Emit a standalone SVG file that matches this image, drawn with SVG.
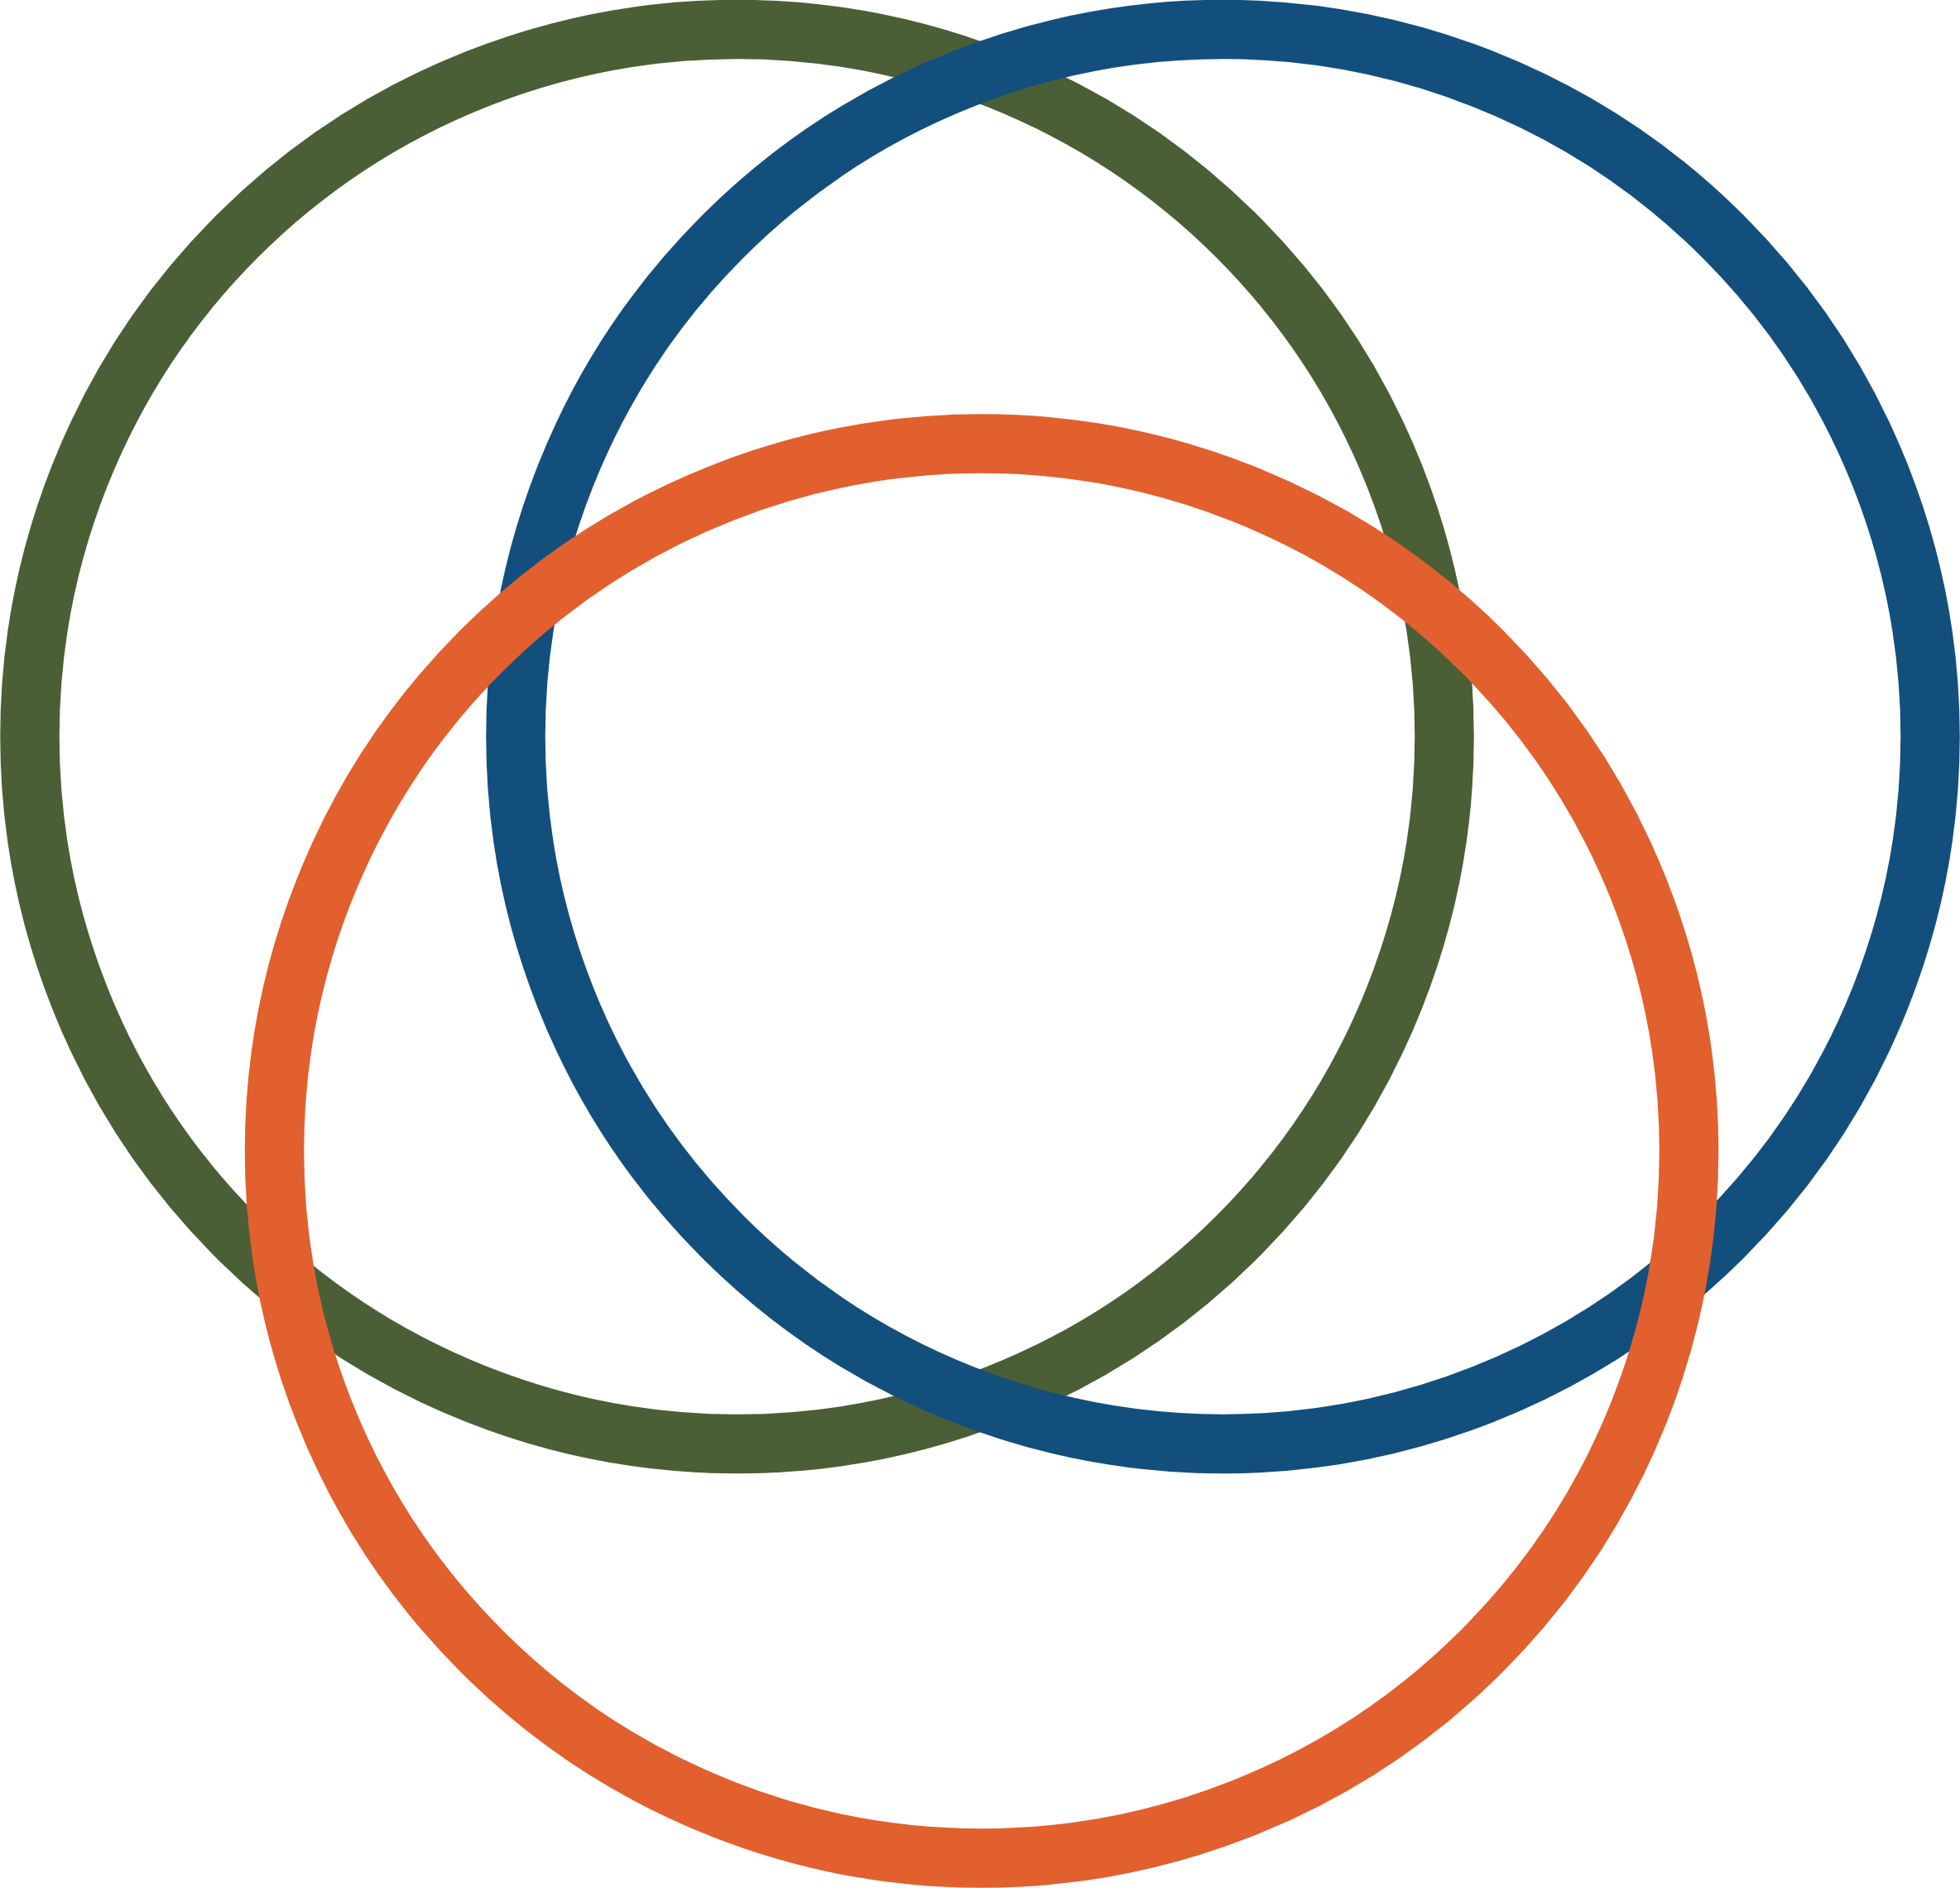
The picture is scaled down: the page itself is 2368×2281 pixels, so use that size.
<svg xmlns="http://www.w3.org/2000/svg" width="2368" height="2281" viewBox="0 0 2368 2281">
<style>circle{fill:none;stroke-width:71.5}</style>
<rect width="2368" height="2281" fill="#ffffff"/>
<g id="circle-green"><circle cx="890.5" cy="890" r="854.5" stroke="#4a5f35"/></g>
<g id="circle-blue"><circle cx="1477.5" cy="890" r="854.5" stroke="#134f7d"/></g>
<g id="circle-orange"><circle cx="1186" cy="1390.5" r="854.5" stroke="#e1602e"/></g>
</svg>
